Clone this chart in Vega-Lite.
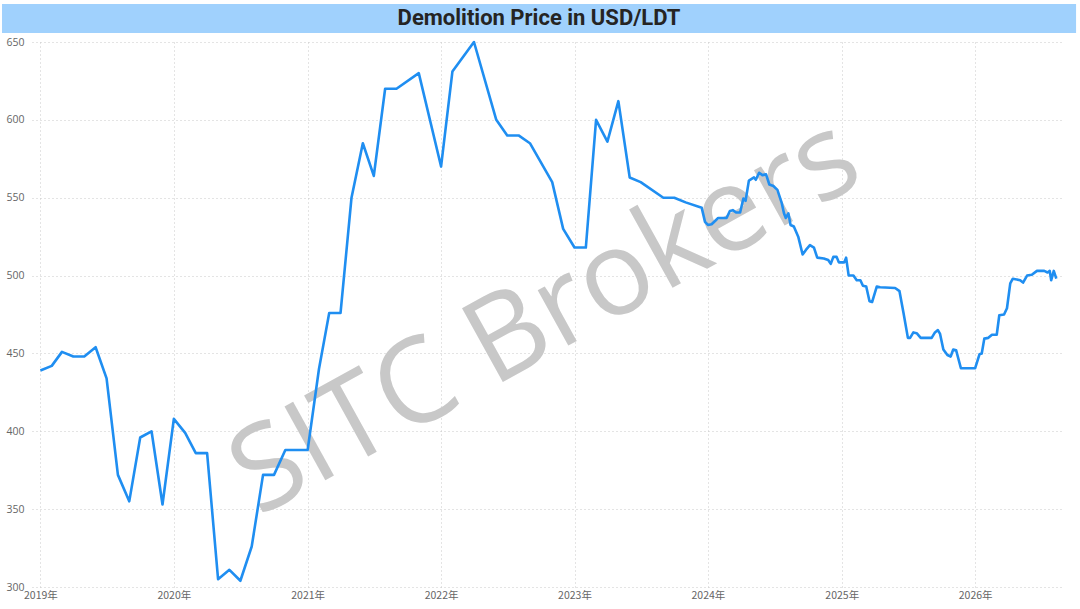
{
  "$schema": "https://vega.github.io/schema/vega-lite/v6.json",
  "width": 1032,
  "height": 545,
  "autosize": {"type": "none"},
  "padding": {"left": 32, "top": 42, "right": 16, "bottom": 22},
  "background": "white",
  "config": {
    "view": {"stroke": null},
    "axis": {
      "domain": false,
      "ticks": false,
      "grid": true,
      "gridColor": "#c8c8c8",
      "gridDash": [1, 3],
      "gridWidth": 1,
      "labelColor": "#666666",
      "labelFont": "Open Sans",
      "labelFontSize": 10.5,
      "title": null
    }
  },
  "layer": [
    {
      "data": {"values": [{"k": 1}]},
      "mark": {"type": "rect", "color": "#a0d1fd"},
      "encoding": {
        "x": {"datum": {"year": 2018, "month": 9, "date": 18, "utc": true}, "type": "temporal"},
        "x2": {"datum": {"year": 2026, "month": 10, "date": 4, "utc": true}},
        "y": {"datum": 674.4, "type": "quantitative"},
        "y2": {"datum": 655.8}
      }
    },
    {
      "data": {"values": [{"label": "Demolition Price in USD/LDT"}]},
      "mark": {"type": "text", "font": "Roboto", "fontWeight": "bold", "fontSize": 22, "color": "#252423", "align": "center", "baseline": "middle"},
      "encoding": {
        "x": {"datum": {"year": 2022, "month": 9, "date": 26, "utc": true}, "type": "temporal"},
        "y": {"datum": 665.1, "type": "quantitative"},
        "text": {"field": "label"}
      }
    },
    {
      "data": {"values": [{"label": "SITC Brokers"}]},
      "mark": {"type": "text", "font": "Open Sans", "fontSize": 118, "fontWeight": 500, "color": "#c8c8c8", "angle": -29, "align": "center", "baseline": "middle"},
      "encoding": {
        "x": {"datum": {"year": 2022, "month": 10, "date": 15, "utc": true}, "type": "temporal"},
        "y": {"datum": 472.8, "type": "quantitative"},
        "text": {"field": "label"}
      }
    },
    {
      "data": {
        "values": [
          {"date": "2019-01-01", "price": 439},
          {"date": "2019-02-01", "price": 442},
          {"date": "2019-03-01", "price": 451},
          {"date": "2019-04-01", "price": 448},
          {"date": "2019-05-01", "price": 448},
          {"date": "2019-06-01", "price": 454},
          {"date": "2019-07-01", "price": 434},
          {"date": "2019-08-01", "price": 372},
          {"date": "2019-09-01", "price": 355},
          {"date": "2019-10-01", "price": 396},
          {"date": "2019-11-01", "price": 400},
          {"date": "2019-12-01", "price": 353},
          {"date": "2020-01-01", "price": 408},
          {"date": "2020-02-01", "price": 399},
          {"date": "2020-03-01", "price": 386},
          {"date": "2020-04-01", "price": 386},
          {"date": "2020-05-01", "price": 305},
          {"date": "2020-06-01", "price": 311},
          {"date": "2020-07-01", "price": 304},
          {"date": "2020-08-01", "price": 326},
          {"date": "2020-09-01", "price": 372},
          {"date": "2020-10-01", "price": 372},
          {"date": "2020-11-01", "price": 388},
          {"date": "2020-12-01", "price": 388},
          {"date": "2021-01-01", "price": 388},
          {"date": "2021-02-01", "price": 440},
          {"date": "2021-03-01", "price": 476},
          {"date": "2021-04-01", "price": 476},
          {"date": "2021-05-01", "price": 550},
          {"date": "2021-06-01", "price": 585},
          {"date": "2021-07-01", "price": 564},
          {"date": "2021-08-01", "price": 620},
          {"date": "2021-09-01", "price": 620},
          {"date": "2021-11-01", "price": 630},
          {"date": "2022-01-01", "price": 570},
          {"date": "2022-02-01", "price": 631},
          {"date": "2022-04-01", "price": 650},
          {"date": "2022-06-01", "price": 600},
          {"date": "2022-07-01", "price": 590},
          {"date": "2022-08-01", "price": 590},
          {"date": "2022-09-01", "price": 585},
          {"date": "2022-11-01", "price": 560},
          {"date": "2022-12-01", "price": 530},
          {"date": "2023-01-01", "price": 518},
          {"date": "2023-02-01", "price": 518},
          {"date": "2023-03-01", "price": 600},
          {"date": "2023-04-01", "price": 586},
          {"date": "2023-05-01", "price": 612},
          {"date": "2023-06-01", "price": 563},
          {"date": "2023-07-01", "price": 560},
          {"date": "2023-09-01", "price": 550},
          {"date": "2023-10-01", "price": 550},
          {"date": "2023-11-01", "price": 547},
          {"date": "2023-12-15", "price": 543.5},
          {"date": "2023-12-24", "price": 534.5},
          {"date": "2024-01-01", "price": 532.5},
          {"date": "2024-01-11", "price": 533},
          {"date": "2024-01-29", "price": 537},
          {"date": "2024-02-21", "price": 537},
          {"date": "2024-03-01", "price": 541.5},
          {"date": "2024-03-09", "price": 542},
          {"date": "2024-03-18", "price": 540.5},
          {"date": "2024-03-29", "price": 540.5},
          {"date": "2024-04-07", "price": 549.5},
          {"date": "2024-04-13", "price": 548},
          {"date": "2024-04-22", "price": 561},
          {"date": "2024-05-06", "price": 563},
          {"date": "2024-05-11", "price": 561.5},
          {"date": "2024-05-20", "price": 566},
          {"date": "2024-05-29", "price": 564.5},
          {"date": "2024-06-08", "price": 565},
          {"date": "2024-06-17", "price": 558.5},
          {"date": "2024-06-28", "price": 557.5},
          {"date": "2024-07-09", "price": 555},
          {"date": "2024-07-21", "price": 546.5},
          {"date": "2024-07-27", "price": 540},
          {"date": "2024-08-01", "price": 537},
          {"date": "2024-08-08", "price": 540},
          {"date": "2024-08-14", "price": 532.5},
          {"date": "2024-08-23", "price": 531.5},
          {"date": "2024-09-04", "price": 525},
          {"date": "2024-09-16", "price": 513.5},
          {"date": "2024-09-25", "price": 516.5},
          {"date": "2024-10-06", "price": 519.5},
          {"date": "2024-10-17", "price": 518},
          {"date": "2024-10-26", "price": 511.5},
          {"date": "2024-11-13", "price": 511},
          {"date": "2024-11-25", "price": 510},
          {"date": "2024-12-02", "price": 507.5},
          {"date": "2024-12-09", "price": 512},
          {"date": "2024-12-18", "price": 512},
          {"date": "2024-12-24", "price": 508.5},
          {"date": "2025-01-08", "price": 508.5},
          {"date": "2025-01-13", "price": 511.5},
          {"date": "2025-01-20", "price": 500},
          {"date": "2025-02-02", "price": 500},
          {"date": "2025-02-11", "price": 497},
          {"date": "2025-02-21", "price": 497},
          {"date": "2025-02-28", "price": 493.5},
          {"date": "2025-03-09", "price": 493},
          {"date": "2025-03-18", "price": 483.5},
          {"date": "2025-03-25", "price": 483},
          {"date": "2025-04-07", "price": 493},
          {"date": "2025-04-16", "price": 492.5},
          {"date": "2025-05-27", "price": 492},
          {"date": "2025-06-08", "price": 490},
          {"date": "2025-06-19", "price": 476},
          {"date": "2025-07-01", "price": 460},
          {"date": "2025-07-07", "price": 460},
          {"date": "2025-07-16", "price": 463.5},
          {"date": "2025-07-25", "price": 463},
          {"date": "2025-08-05", "price": 460},
          {"date": "2025-09-04", "price": 460},
          {"date": "2025-09-13", "price": 463.5},
          {"date": "2025-09-21", "price": 465},
          {"date": "2025-09-27", "price": 462.5},
          {"date": "2025-10-06", "price": 452.5},
          {"date": "2025-10-17", "price": 449},
          {"date": "2025-10-26", "price": 448},
          {"date": "2025-11-02", "price": 452.5},
          {"date": "2025-11-10", "price": 452},
          {"date": "2025-11-23", "price": 440.5},
          {"date": "2026-01-01", "price": 440.5},
          {"date": "2026-01-13", "price": 449.5},
          {"date": "2026-01-19", "price": 450},
          {"date": "2026-01-26", "price": 459.5},
          {"date": "2026-02-06", "price": 460},
          {"date": "2026-02-16", "price": 462},
          {"date": "2026-03-01", "price": 462},
          {"date": "2026-03-08", "price": 474.5},
          {"date": "2026-03-21", "price": 475},
          {"date": "2026-03-29", "price": 479},
          {"date": "2026-04-07", "price": 495},
          {"date": "2026-04-14", "price": 498},
          {"date": "2026-05-04", "price": 497},
          {"date": "2026-05-12", "price": 495.5},
          {"date": "2026-05-23", "price": 500},
          {"date": "2026-06-05", "price": 500.5},
          {"date": "2026-06-19", "price": 503},
          {"date": "2026-07-09", "price": 503},
          {"date": "2026-07-18", "price": 502},
          {"date": "2026-07-24", "price": 503},
          {"date": "2026-07-28", "price": 497},
          {"date": "2026-08-04", "price": 503},
          {"date": "2026-08-11", "price": 498}
        ]
      },
      "mark": {"type": "line", "color": "#1f8ef1", "strokeWidth": 2.6, "strokeJoin": "round"},
      "encoding": {
        "x": {
          "field": "date",
          "type": "temporal",
          "scale": {
            "type": "utc",
            "domain": [
              {"year": 2018, "month": 12, "date": 9, "utc": true},
              {"year": 2026, "month": 9, "date": 1, "utc": true}
            ]
          },
          "axis": {
            "grid": true,
            "labelExpr": "utcFormat(datum.value, '%Y') + '年'",
            "labelFont": "Noto Sans CJK SC",
            "values": [
              {"year": 2019, "month": 1, "date": 1, "utc": true},
              {"year": 2020, "month": 1, "date": 1, "utc": true},
              {"year": 2021, "month": 1, "date": 1, "utc": true},
              {"year": 2022, "month": 1, "date": 1, "utc": true},
              {"year": 2023, "month": 1, "date": 1, "utc": true},
              {"year": 2024, "month": 1, "date": 1, "utc": true},
              {"year": 2025, "month": 1, "date": 1, "utc": true},
              {"year": 2026, "month": 1, "date": 1, "utc": true}
            ],
            "labelFlush": false,
            "labelPadding": 3
          }
        },
        "y": {
          "field": "price",
          "type": "quantitative",
          "scale": {"domain": [300, 650], "zero": false},
          "axis": {
            "grid": true,
            "values": [300, 350, 400, 450, 500, 550, 600, 650],
            "labelPadding": 8
          }
        }
      }
    }
  ]
}
